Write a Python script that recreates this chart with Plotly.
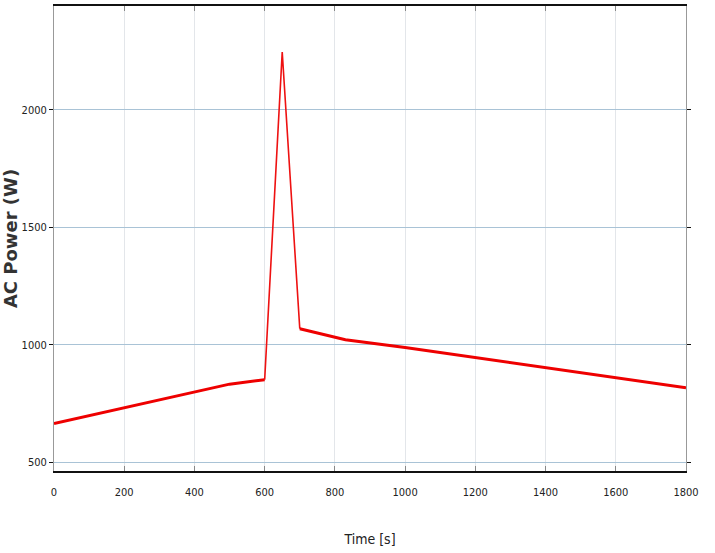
import plotly.graph_objects as go

time_s = [0, 500, 600, 650, 700, 830, 1000, 1400, 1800]
power_w = [664, 832, 851, 2247, 1068, 1021, 988, 902, 817]

x_ticks = [0, 200, 400, 600, 800, 1000, 1200, 1400, 1600, 1800]
y_ticks = [500, 1000, 1500, 2000]

fig = go.Figure()
# slow ramps drawn thick, the fast transient thinner (as rendered in the reference)
fig.add_trace(go.Scatter(x=time_s[:3], y=power_w[:3], mode="lines",
                         line=dict(color="#ee0000", width=3), showlegend=False))
fig.add_trace(go.Scatter(x=time_s[2:5], y=power_w[2:5], mode="lines",
                         line=dict(color="#ee1111", width=1.6), showlegend=False))
fig.add_trace(go.Scatter(x=time_s[4:], y=power_w[4:], mode="lines",
                         line=dict(color="#ee0000", width=3), showlegend=False))

fam = "DejaVu Sans Condensed, Liberation Sans"
tickfont = dict(family=fam, size=11, color="#222")
fig.update_layout(
    width=715, height=553,
    margin=dict(l=54, r=29, t=6, b=82),
    paper_bgcolor="white", plot_bgcolor="white",
    xaxis=dict(range=[0, 1800], tickvals=x_ticks, ticktext=[str(v) for v in x_ticks],
               showgrid=True, gridcolor="#e3e6ea", gridwidth=1,
               showline=True, linecolor="#111", linewidth=1.5, mirror="ticks",
               ticks="inside", ticklen=5, tickcolor="#888", tickfont=tickfont,
               ticklabelstandoff=10,
               zeroline=False, automargin=False,
               title=dict(text="Time [s]", font=dict(family=fam, size=14, color="#222"), standoff=36)),
    yaxis=dict(range=[462, 2443], tickvals=y_ticks, ticktext=[str(v) for v in y_ticks],
               showgrid=True, gridcolor="#a9c3d6", gridwidth=1,
               showline=True, linecolor="#999", linewidth=1, mirror="ticks",
               ticks="outside", ticklen=4, tickcolor="#111", tickfont=tickfont,
               zeroline=False, automargin=False,
               title=dict(text="<b>AC Power (W)</b>", font=dict(family="DejaVu Sans", size=18, color="#333"), standoff=4)),
)
fig.write_html("out.html")
